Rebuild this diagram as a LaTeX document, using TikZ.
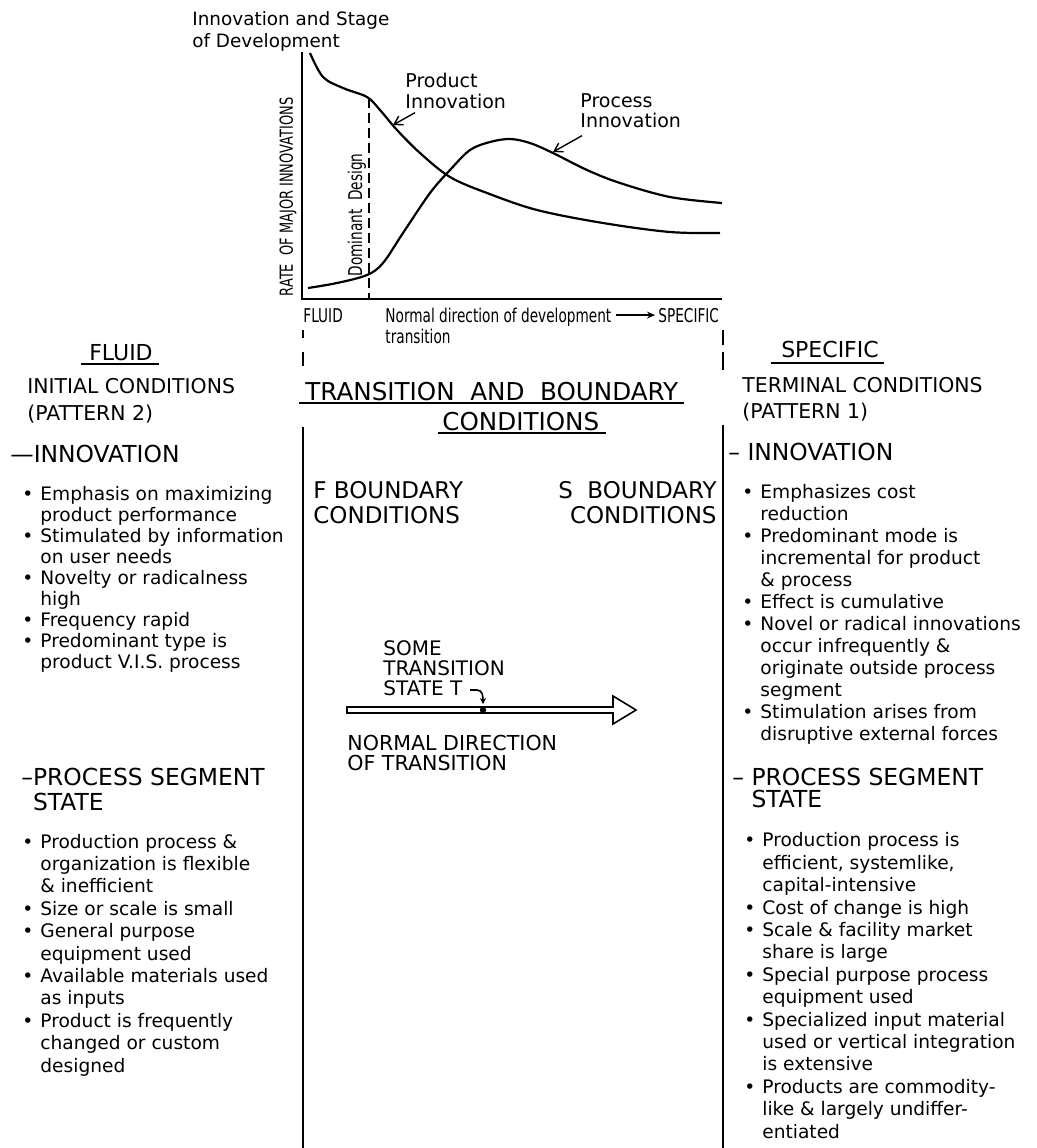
\documentclass[tikz,border=0pt]{standalone}
\usepackage{fontspec}
\setmainfont{DejaVu Sans}
\newfontfamily\graphfont[FakeStretch=0.72]{DejaVu Sans}
\usetikzlibrary{arrows.meta,positioning}
\newcommand\bul{\llap{\textbullet\hspace{3.5pt}}}

\begin{document}
\begin{tikzpicture}[x=0.5pt,y=-0.5pt,
  txt/.style={anchor=base west, inner sep=0pt, align=left},
  body/.style={txt, font=\fontsize{9.3}{#1}\selectfont},
  head/.style={txt, font=\fontsize{11.7}{#1}\selectfont},
  gtxt/.style={txt, font=\graphfont\fontsize{9.5}{10}\selectfont},
  uline/.style={line width=0.9pt},
  curve/.style={line width=1.1pt},
  pointer/.style={-{Straight Barb[length=4pt,width=5pt]}, line width=0.7pt}]
\path[use as bounding box, fill=white] (0,0) rectangle (1037,1148);

% Graph at the top (multi-line texts sit on the base line of their last line)
\node[txt, font=\fontsize{9.2}{11}\selectfont] (title) at (192,47) {Innovation and Stage\\of Development};
\draw[curve] (302,52) -- (302,299) -- (722,299);
\draw[line width=0.8pt, dash pattern=on 5pt off 2.5pt] (369,98) -- (369,299);
\node[rotate=90, inner sep=0pt, font=\graphfont\fontsize{9}{10}\selectfont] (ratelab) at (288,197) {RATE\ \ OF MAJOR INNOVATIONS};
\node[rotate=90, inner sep=0pt, font=\graphfont\fontsize{9.5}{10}\selectfont] (domlab) at (357,215) {Dominant\ \ Design};
\draw[curve] plot[smooth, tension=0.55] coordinates {(310,53) (323,77) (343,88) (367,97) (380,110) (397,130) (420,153) (450,177) (487,193) (537,210) (603,223) (670,232) (720,233)};
\draw[curve] plot[smooth, tension=0.55] coordinates {(308,288) (337,283) (367,275) (383,263) (403,233) (430,193) (450,170) (470,150) (490,142) (510,139) (530,143) (553,153) (587,170) (620,183) (670,197) (722,203)};
\node[txt, font=\fontsize{9.5}{10.5}\selectfont] (prodlab) at (405,108) {Product\\Innovation};
\node[txt, font=\fontsize{9.5}{10}\selectfont] (proclab) at (580,127) {Process\\Innovation};
\coordinate (prodtip) at (393,125);
\coordinate (proctip) at (553,152);
\draw[pointer] ([xshift=5pt,yshift=-2pt]prodlab.south west) -- (prodtip);
\draw[pointer] ([xshift=1pt,yshift=-4pt]proclab.south west) -- (proctip);
\node[gtxt] (gfluid) at (303,322) {FLUID};
\node[gtxt] (normdir) at (385,322) {Normal direction of development};
\node[gtxt] (gspec) at (658,322) {SPECIFIC};
\node[gtxt] (gtrans) at (385,343) {transition};
\coordinate (devend) at (normdir.east |- gspec.west);
\draw[-{Stealth[length=4pt,width=3.5pt]}, line width=0.8pt] ([xshift=2pt]devend) -- ([xshift=-1.5pt]gspec.west);

% Boundary lines
\draw[line width=0.9pt] (303,330) -- (303,338) (303,352) -- (303,366);
\draw[line width=0.9pt] (723,330) -- (723,345) (723,352) -- (723,370);
\draw[line width=1pt] (303,427) -- (303,1148);
\draw[line width=1pt] (723,425) -- (723,1148);

% Left column
\node[txt, anchor=base, font=\fontsize{11}{12}\selectfont] (fluid) at (121,360) {FLUID};
\draw[uline] ([xshift=-4pt,yshift=-2pt]fluid.base west) -- ([xshift=3pt,yshift=-2pt]fluid.base east);
\node[txt, font=\fontsize{10.2}{13.5}\selectfont] (initcond) at (27,420) {INITIAL CONDITIONS\\(PATTERN 2)};
\node[head=12] (finnov) at (10,462) {—INNOVATION};
\node[body=10.5] (finlist) at (40,668) {\bul Emphasis on maximizing\\product performance\\\bul Stimulated by information\\on user needs\\\bul Novelty or radicalness\\high\\\bul Frequency rapid\\\bul Predominant type is\\product V.I.S. process};
\node[head=12.5] (fproc) at (21,810) {–PROCESS SEGMENT\\\phantom{–}STATE};
\node[body=11.2] (fproclist) at (40,1072) {\bul Production process \&\\organization is flexible\\\& inefficient\\\bul Size or scale is small\\\bul General purpose\\equipment used\\\bul Available materials used\\as inputs\\\bul Product is frequently\\changed or custom\\designed};

% Middle column
\node[txt, font=\fontsize{12.3}{13}\selectfont] (tbc) at (305,400) {TRANSITION\ \ AND\ \ BOUNDARY};
\draw[uline] ([xshift=-3pt,yshift=-1.5pt]tbc.base west) -- ([xshift=2.5pt,yshift=-1.5pt]tbc.base east);
\node[txt, font=\fontsize{12.3}{13}\selectfont] (tbccond) at (442,430) {CONDITIONS};
\draw[uline] ([xshift=-2pt,yshift=-1.5pt]tbccond.base west) -- ([xshift=3pt,yshift=-1.5pt]tbccond.base east);
\node[txt, font=\fontsize{11.5}{12.5}\selectfont] (fbound) at (313,523) {F BOUNDARY\\CONDITIONS};
\node[txt, anchor=base east, align=right, font=\fontsize{11.5}{12.5}\selectfont] (sbound) at (717,523) {S\ \ BOUNDARY\\CONDITIONS};
\node[txt, font=\fontsize{10}{10}\selectfont] (tstate) at (383,695) {SOME\\TRANSITION\\STATE T};
\draw[line width=0.8pt] (347,707) -- (613,707) -- (613,696) -- (636,710) -- (613,724) -- (613,713) -- (347,713) -- cycle;
\coordinate (hooka) at (470,690);
\coordinate (hookb) at (477,690);
\coordinate (hooktip) at (483,704);
\draw[line width=0.8pt, -{Stealth[length=3pt,width=3pt]}] (hooka) -- (hookb) .. controls ++(6,0) and ++(0,-7) .. (hooktip);
\fill (483,710) circle[radius=1.6pt];
\node[txt, font=\fontsize{10.3}{10}\selectfont] (normtrans) at (347,770) {NORMAL DIRECTION\\OF TRANSITION};

% Right column
\node[txt, anchor=base, font=\fontsize{11}{12}\selectfont] (specific) at (830,357) {SPECIFIC};
\draw[uline] ([xshift=-5pt,yshift=-3pt]specific.base west) -- ([xshift=2.5pt,yshift=-3pt]specific.base east);
\node[txt, font=\fontsize{10.2}{13}\selectfont] (termcond) at (742,418) {TERMINAL CONDITIONS\\(PATTERN 1)};
\node[head=12] (sinnov) at (728,460) {– INNOVATION};
\node[body=11] (sinlist) at (760,740) {\bul Emphasizes cost\\reduction\\\bul Predominant mode is\\incremental for product\\\& process\\\bul Effect is cumulative\\\bul Novel or radical innovations\\occur infrequently \&\\originate outside process\\segment\\\bul Stimulation arises from\\disruptive external forces};
\node[head=11] (sproc) at (732,807) {– PROCESS SEGMENT\\\phantom{– }STATE};
\node[body=11.2] (sproclist) at (762,1138) {\bul Production process is\\efficient, systemlike,\\capital-intensive\\\bul Cost of change is high\\\bul Scale \& facility market\\share is large\\\bul Special purpose process\\equipment used\\\bul Specialized input material\\used or vertical integration\\is extensive\\\bul Products are commodity-\\like \& largely undiffer-\\entiated};
\end{tikzpicture}
\end{document}
